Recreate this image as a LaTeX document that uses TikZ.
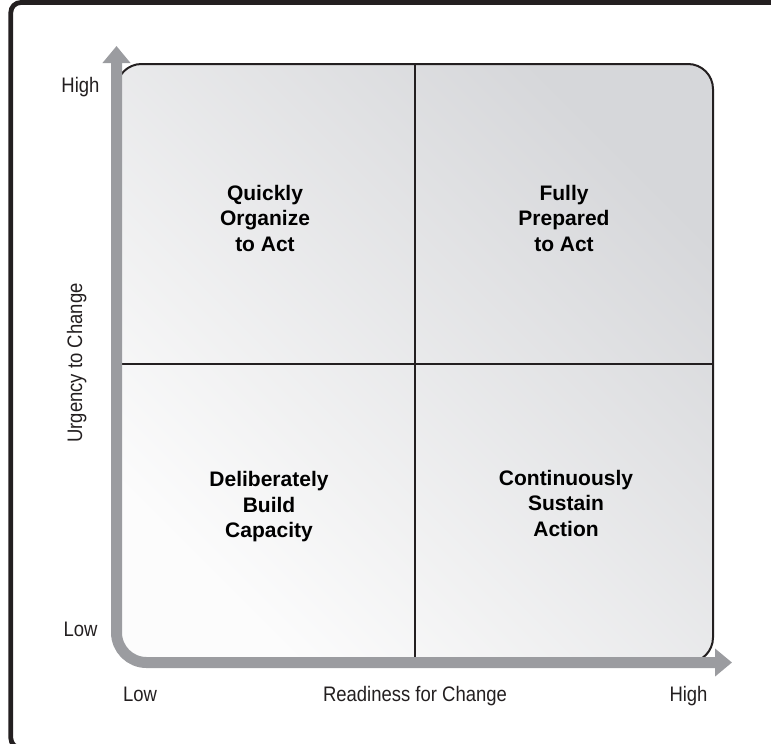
\documentclass[tikz,border=0pt]{standalone}
\usepackage{fontspec}
\setmainfont{Liberation Sans}
\newfontfamily\condfont[FakeStretch=0.88]{Liberation Sans}
\usetikzlibrary{arrows.meta}
\definecolor{axisgray}{RGB}{155,156,160}
\definecolor{boxdark}{RGB}{214,215,218}
\definecolor{boxlight}{RGB}{252,252,252}
\definecolor{ink}{RGB}{35,31,32}
\begin{document}
\begin{tikzpicture}[x=1pt,y=-1pt,
  frame/.style={draw=ink,line width=4.8pt,rounded corners=10pt},
  quadbox/.style={draw=ink,line width=2pt,rounded corners=25pt,top color=boxdark,bottom color=boxlight,shading angle=-45},
  axisline/.style={draw=axisgray,line width=11pt,rounded corners=30pt,{Triangle[width=27pt,length=17pt]}-{Triangle[width=27pt,length=17pt]}},
  divider/.style={draw=ink,line width=1.4pt},
  axislabel/.style={font=\condfont\fontsize{21}{25}\selectfont,text=ink,inner sep=0pt,anchor=base},
  quadlabel/.style={font=\bfseries\fontsize{21}{25.5}\selectfont,text=black,align=center,inner sep=0pt}]
\useasboundingbox (0,0) rectangle (771,744);
\clip (0,0) rectangle (771,744);
% outer frame (cropped at right and bottom)
\draw[frame] (10.8,2.5) rectangle (790,748);
% coordinates
\coordinate (boxTL) at (116.5,64);
\coordinate (boxBR) at (713,662.5);
\coordinate (O) at (116.5,662.5);
\coordinate (ytip) at (116.5,46);
\coordinate (xtip) at (732,662.5);
\coordinate (vTop) at (415,64);
\coordinate (vBot) at (415,657);
\coordinate (hL) at (122,364);
\coordinate (hR) at (713,364);
% quadrant box
\path[quadbox] (boxTL) rectangle (boxBR);
\draw[divider] (vTop) -- (vBot);
\draw[divider] (hL) -- (hR);
% axes
\draw[axisline] (ytip) -- (O) -- (xtip);
% axis labels
\node[axislabel] (yhigh) at (80.5,92.7) {High};
\node[axislabel] (ylow) at (80.5,636) {Low};
\node[axislabel] (xlow) at (140,701) {Low};
\node[axislabel] (xtitle) at (415,701) {Readiness for Change};
\node[axislabel] (xhigh) at (688.5,701) {High};
\node[axislabel,rotate=90] (ytitle) at (82,363) {Urgency to Change};
% quadrant labels
\node[quadlabel] (q1) at (265,218) {Quickly\\Organize\\to Act};
\node[quadlabel] (q2) at (564,218) {Fully\\Prepared\\to Act};
\node[quadlabel] (q3) at (269,507) {Deliberately\\Build\\Capacity};
\node[quadlabel] (q4) at (566,503) {Continuously\\Sustain\\Action};
\end{tikzpicture}
\end{document}
